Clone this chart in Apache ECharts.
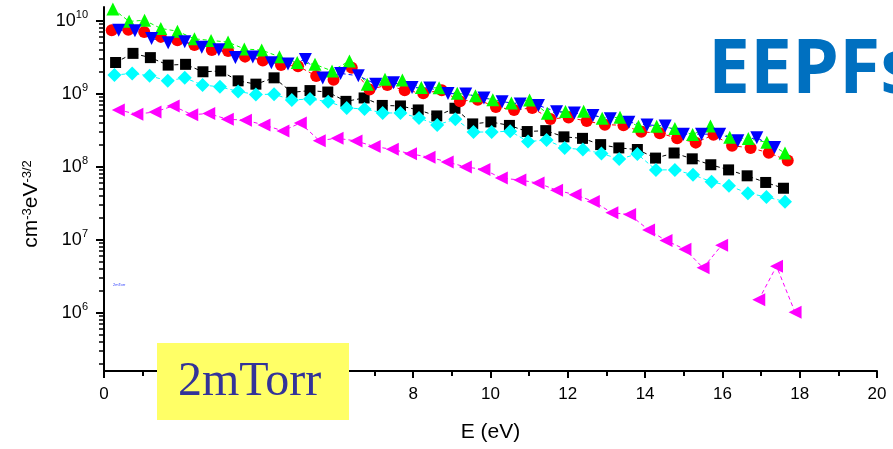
<!DOCTYPE html>
<html>
<head>
<meta charset="utf-8">
<script src="https://cdn.jsdelivr.net/npm/echarts@6/dist/echarts.min.js"></script>
<style>html,body{margin:0;padding:0;background:#fff;}#c{width:893px;height:449px;}</style>
</head>
<body>
<div id="c"></div>
<script>
// ---- data (E in eV, EEPF in cm^-3 eV^-3/2) ----
const eBlack = [0.30,0.75,1.20,1.66,2.11,2.56,3.02,3.47,3.93,4.40,4.86,5.33,5.79,6.26,6.73,7.20,7.67,8.13,8.61,9.08,9.54,10.01,10.49,10.95,11.43,11.90,12.38,12.85,13.32,13.80,14.27,14.75,15.22,15.70,16.16,16.64,17.12,17.58];
const vBlack = [2.69e9,3.59e9,3.14e9,2.48e9,2.54e9,2.01e9,2.06e9,1.51e9,1.36e9,1.66e9,1.05e9,1.11e9,1.06e9,7.9e8,8.8e8,6.95e8,6.84e8,6.03e8,4.99e8,6.36e8,3.88e8,4.13e8,3.70e8,3.05e8,3.14e8,2.58e8,2.46e8,2.02e8,1.82e8,1.73e8,1.32e8,1.55e8,1.29e8,1.07e8,9.1e7,7.55e7,6.12e7,5.10e7];

const eRed = [0.20,0.63,1.04,1.47,1.90,2.34,2.79,3.21,3.65,4.11,4.58,5.02,5.49,5.94,6.41,6.87,7.33,7.78,8.26,8.74,9.21,9.67,10.14,10.61,11.08,11.55,12.02,12.49,12.96,13.44,13.90,14.38,14.83,15.31,15.77,16.25,16.73,17.20,17.69];
const vRed = [7.46e9,7.58e9,7.07e9,6.04e9,5.45e9,4.66e9,3.98e9,3.86e9,3.24e9,2.86e9,2.48e9,2.40e9,1.76e9,1.56e9,2.28e9,1.15e9,1.32e9,1.12e9,1.02e9,1.12e9,7.94e8,8.33e8,6.62e8,6.03e8,6.42e8,4.54e8,4.76e8,4.24e8,3.79e8,3.72e8,3.02e8,2.90e8,2.47e8,2.15e8,2.75e8,1.95e8,1.82e8,1.56e8,1.22e8];

const eGreen = [0.23,0.65,1.05,1.47,1.90,2.34,2.77,3.21,3.63,4.08,4.54,5.00,5.46,5.90,6.35,6.81,7.27,7.72,8.21,8.67,9.14,9.61,10.06,10.54,11.01,11.47,11.94,12.41,12.89,13.35,13.83,14.30,14.77,15.23,15.69,16.19,16.67,17.15,17.62];
const vGreen = [1.46e10,9.85e9,1.02e10,7.87e9,7.23e9,5.68e9,5.40e9,5.12e9,4.13e9,3.98e9,3.22e9,2.70e9,2.54e9,2.06e9,2.83e9,1.36e9,1.59e9,1.55e9,1.22e9,1.21e9,1.02e9,9.42e8,8.33e8,7.51e8,8.26e8,5.43e8,5.75e8,5.80e8,4.64e8,4.79e8,3.59e8,3.60e8,3.35e8,2.77e8,3.64e8,2.54e8,2.44e8,2.17e8,1.55e8];

const eBlue = [0.38,0.80,1.23,1.66,2.09,2.53,2.97,3.40,3.85,4.33,4.76,5.21,5.66,6.12,6.58,7.03,7.49,7.97,8.43,8.90,9.36,9.83,10.30,10.77,11.24,11.71,12.17,12.65,13.10,13.58,14.05,14.52,14.99,15.46,15.93,16.40,16.89,17.35];
const vBlue = [7.46e9,7.35e9,5.75e9,5.00e9,5.17e9,4.37e9,4.02e9,3.16e9,3.19e9,2.67e9,2.56e9,2.95e9,1.65e9,1.91e9,1.77e9,1.36e9,1.42e9,1.22e9,1.20e9,1.01e9,1.00e9,8.79e8,7.82e8,7.28e8,6.95e8,5.71e8,5.48e8,5.07e8,4.57e8,4.10e8,3.76e8,3.64e8,2.81e8,2.81e8,2.81e8,2.29e8,2.51e8,1.85e8];

const eCyan = [0.27,0.73,1.18,1.65,2.09,2.55,3.00,3.47,3.93,4.40,4.86,5.33,5.80,6.28,6.74,7.21,7.67,8.15,8.62,9.09,9.56,10.03,10.51,10.97,11.45,11.92,12.39,12.87,13.33,13.80,14.28,14.77,15.24,15.72,16.17,16.66,17.14,17.62];
const vCyan = [1.81e9,1.91e9,1.77e9,1.51e9,1.66e9,1.32e9,1.25e9,1.08e9,9.8e8,9.9e8,8.26e8,8.51e8,7.82e8,6.42e8,6.22e8,5.48e8,5.48e8,4.69e8,3.76e8,4.51e8,3.00e8,3.01e8,3.08e8,2.22e8,2.34e8,1.81e8,1.73e8,1.53e8,1.28e8,1.50e8,9.1e7,9.1e7,7.80e7,6.25e7,5.52e7,4.36e7,3.88e7,3.34e7];

const eMagenta = [0.37,0.85,1.32,1.79,2.27,2.71,3.19,3.66,4.14,4.63,5.08,5.57,6.03,6.52,6.99,7.46,7.93,8.41,8.88,9.35,9.83,10.28,10.76,11.23,11.71,12.19,12.66,13.14,13.60,14.09,14.54,15.03,15.50,15.98,16.45,16.94,17.40,17.88];
const vMagenta = [6.03e8,5.28e8,5.66e8,6.84e8,5.20e8,5.37e8,4.50e8,4.36e8,3.76e8,3.11e8,4.00e8,2.29e8,2.47e8,2.27e8,1.90e8,1.74e8,1.51e8,1.36e8,1.17e8,1.00e8,9.2e7,7.03e7,6.61e7,6.01e7,4.79e7,4.16e7,3.37e7,2.36e7,2.22e7,1.37e7,9.8e6,7.45e6,4.14e6,8.44e6,null,1.51e6,4.36e6,1.02e6];

const xTicks = [0,2,4,6,8,10,12,14,16,18,20];
const yMajor = [1e6,1e7,1e8,1e9,1e10];
const yMinorFactors = [2,3,4,5,6,7,8,9];

// ---- build ----
const yMin = 1.6e5, yMax = 1.55e10;
const yMinor = [];
[1e5,1e6,1e7,1e8,1e9,1e10].forEach(d => yMinorFactors.forEach(f => { const v = d*f; if (v > yMin && v < yMax) yMinor.push(v); }));

function pairs(es, vs) { return es.map((e, i) => [e, vs[i] == null ? '-' : vs[i]]); }

const FONT = '"Liberation Sans", Arial, sans-serif';
function mk(name, es, vs, color, symbol, size, rot) {
  return {
    name, type: 'line', data: pairs(es, vs), connectNulls: false,
    symbol, symbolSize: size, symbolRotate: rot || 0,
    itemStyle: { color: color, borderWidth: 0 },
    lineStyle: { color: color, width: 1, type: [4, 3] },
    emphasis: { disabled: true }, clip: false
  };
}

const chart = echarts.init(document.getElementById('c'), null, { renderer: 'canvas' });
chart.setOption({
  animation: false,
  backgroundColor: '#ffffff',
  grid: { left: 104, right: 16, top: 7, bottom: 78 },
  xAxis: {
    type: 'value', min: 0, max: 20, interval: 2,
    name: 'E (eV)', nameLocation: 'middle', nameGap: 51,
    nameTextStyle: { fontFamily: FONT, fontSize: 21, color: '#000' },
    axisLine: { lineStyle: { color: '#000', width: 2 } },
    axisTick: { show: true, inside: false, length: 7, lineStyle: { color: '#000', width: 2 } },
    minorTick: { show: true, splitNumber: 2, length: 5, lineStyle: { color: '#000', width: 2 } },
    axisLabel: { fontFamily: FONT, fontSize: 17, color: '#000', margin: 15,
      customValues: xTicks, formatter: v => String(v) },
    splitLine: { show: false }, minorSplitLine: { show: false }
  },
  yAxis: [{
    type: 'log', logBase: 10, min: yMin, max: yMax,
    name: 'cm{s|-3}eV{s|-3/2}', nameLocation: 'middle', nameGap: 62, nameRotate: 90,
    nameTextStyle: { fontFamily: FONT, fontSize: 21, color: '#000', padding: [0, 30, 0, 0],
      rich: { s: { fontFamily: FONT, fontSize: 13, verticalAlign: 'top', lineHeight: 13, color: '#000' } } },
    axisLine: { lineStyle: { color: '#000', width: 2 } },
    axisTick: { show: true, length: 8, customValues: yMajor, lineStyle: { color: '#000', width: 2 } },
    axisLabel: { customValues: yMajor, margin: 16, color: '#000',
      formatter: v => '{b|10}{s|' + Math.round(Math.log10(v)) + '}',
      rich: {
        b: { fontFamily: FONT, fontSize: 18, lineHeight: 22, color: '#000' },
        s: { fontFamily: FONT, fontSize: 11, lineHeight: 12, verticalAlign: 'top', color: '#000' }
      } },
    splitLine: { show: false }
  }, {
    type: 'log', logBase: 10, min: yMin, max: yMax, position: 'left',
    axisLine: { show: false },
    axisTick: { show: true, length: 5, customValues: yMinor, lineStyle: { color: '#000', width: 1.5 } },
    axisLabel: { show: false },
    splitLine: { show: false }
  }],
  series: [
    mk('black', eBlack, vBlack, '#000000', 'rect', 11),
    mk('red', eRed, vRed, '#FF0000', 'circle', 12),
    mk('green', eGreen, vGreen, '#00FF00', 'triangle', 13),
    mk('blue', eBlue, vBlue, '#0000FF', 'triangle', 13, 180),
    mk('cyan', eCyan, vCyan, '#00FFFF', 'diamond', 14),
    mk('magenta', eMagenta, vMagenta, '#FF00FF', 'triangle', 13, 90)
  ],
  graphic: [
    { type: 'text', z: 100, left: 113, top: 283, style: { text: '2mTorr', font: '4px ' + FONT, fill: '#3344ff' } },
    { type: 'rect', z: 100, shape: { x: 157, y: 343, width: 192, height: 77 }, style: { fill: '#FFFF66' } },
    { type: 'text', z: 101, style: { text: '2mTorr', x: 178, y: 382, verticalAlign: 'middle', font: '48px "Liberation Serif", "Times New Roman", serif', fill: '#333399' } },
    { type: 'text', z: 101, style: { text: 'EEPFs', x: 708, y: 72, verticalAlign: 'middle', font: 'bold 75px "Open Sans", "Noto Sans", sans-serif', fill: '#0070C0' } }
  ]
});
</script>
</body>
</html>
